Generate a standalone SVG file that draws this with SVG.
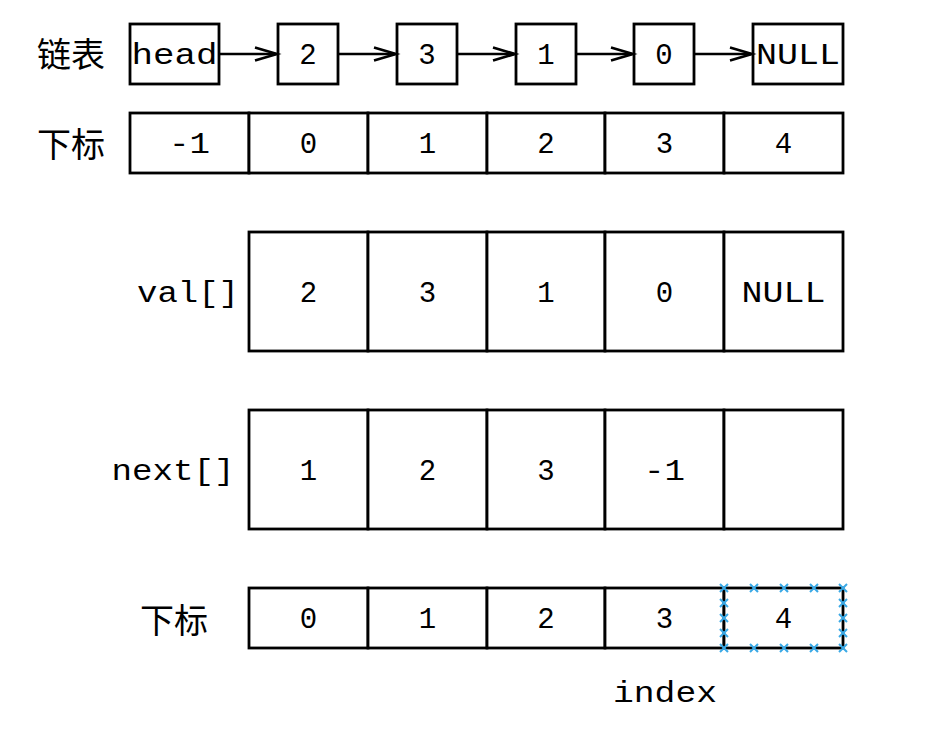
<svg xmlns="http://www.w3.org/2000/svg" width="952" height="736" viewBox="0 0 952 736">
<defs>
<path id="ah" d="M-22,-6.5 L0,0 L-22,6.5" fill="none" stroke="#000" stroke-width="2.6" stroke-linejoin="miter"/>
<g id="xm"><path d="M-4,-4 L4,4 M-4,4 L4,-4" stroke="#3aa9e6" stroke-width="2"/></g>
</defs>
<style>
.b{fill:#fff;stroke:#000;stroke-width:2.8}
.m{font-family:"Liberation Mono","Courier New",monospace;font-size:29px;fill:#000;text-anchor:middle}
.c{font-family:"Noto Sans CJK SC","Noto Sans CJK JP",sans-serif;font-size:34px;fill:#000}
.l{stroke:#000;stroke-width:2.4;fill:none}
</style>
<rect width="952" height="736" fill="#fff"/>
<g id="labels">
<text class="c" x="37" y="67">链表</text>
<text class="c" x="37" y="157">下标</text>
<text class="m" x="188" y="302" textLength="102" lengthAdjust="spacingAndGlyphs">val[]</text>
<text class="m" x="173" y="480" textLength="123" lengthAdjust="spacingAndGlyphs">next[]</text>
<text class="c" x="140" y="633">下标</text>
<text class="m" x="665" y="702" textLength="104" lengthAdjust="spacingAndGlyphs">index</text>
</g>
<g id="list-head"><rect class="b" x="130" y="24" width="89" height="60"/><text class="m" x="174.5" y="64" font-size="31" textLength="86" lengthAdjust="spacingAndGlyphs">head</text></g>
<g id="list-2"><rect class="b" x="278" y="24" width="60" height="60"/><text class="m" x="308" y="64">2</text></g>
<g id="list-3"><rect class="b" x="397" y="24" width="60" height="60"/><text class="m" x="427" y="64">3</text></g>
<g id="list-1"><rect class="b" x="516" y="24" width="60" height="60"/><text class="m" x="546" y="64">1</text></g>
<g id="list-0"><rect class="b" x="634" y="24" width="60" height="60"/><text class="m" x="664" y="64">0</text></g>
<g id="list-null"><rect class="b" x="753" y="24" width="90" height="60"/><text class="m" x="798" y="64" font-size="31" textLength="84" lengthAdjust="spacingAndGlyphs">NULL</text></g>
<g id="connectors">
<line class="l" x1="219" y1="54" x2="276" y2="54"/><use href="#ah" x="277" y="54"/>
<line class="l" x1="338" y1="54" x2="395" y2="54"/><use href="#ah" x="396" y="54"/>
<line class="l" x1="457" y1="54" x2="514" y2="54"/><use href="#ah" x="515" y="54"/>
<line class="l" x1="576" y1="54" x2="632" y2="54"/><use href="#ah" x="633" y="54"/>
<line class="l" x1="694" y1="54" x2="751" y2="54"/><use href="#ah" x="752" y="54"/>
</g>
<g id="index-row-top">
<rect class="b" x="130" y="113" width="119" height="60"/><text class="m" x="189.5" y="153" textLength="41" lengthAdjust="spacingAndGlyphs">-1</text>
<rect class="b" x="249" y="113" width="119" height="60"/><text class="m" x="308.5" y="153">0</text>
<rect class="b" x="368" y="113" width="119" height="60"/><text class="m" x="427.5" y="153">1</text>
<rect class="b" x="487" y="113" width="118" height="60"/><text class="m" x="546" y="153">2</text>
<rect class="b" x="605" y="113" width="119" height="60"/><text class="m" x="664.5" y="153">3</text>
<rect class="b" x="724" y="113" width="119" height="60"/><text class="m" x="783.5" y="153">4</text>
</g>
<g id="val">
<rect class="b" x="249" y="232" width="119" height="119"/><text class="m" x="308.5" y="302">2</text>
<rect class="b" x="368" y="232" width="119" height="119"/><text class="m" x="427.5" y="302">3</text>
<rect class="b" x="487" y="232" width="118" height="119"/><text class="m" x="546" y="302">1</text>
<rect class="b" x="605" y="232" width="119" height="119"/><text class="m" x="664.5" y="302">0</text>
<rect class="b" x="724" y="232" width="119" height="119"/><text class="m" x="783.5" y="302" textLength="84" lengthAdjust="spacingAndGlyphs">NULL</text>
</g>
<g id="next">
<rect class="b" x="249" y="410" width="119" height="119"/><text class="m" x="308.5" y="480">1</text>
<rect class="b" x="368" y="410" width="119" height="119"/><text class="m" x="427.5" y="480">2</text>
<rect class="b" x="487" y="410" width="118" height="119"/><text class="m" x="546" y="480">3</text>
<rect class="b" x="605" y="410" width="119" height="119"/><text class="m" x="664.5" y="480" textLength="41" lengthAdjust="spacingAndGlyphs">-1</text>
<rect class="b" x="724" y="410" width="119" height="119"/>
</g>
<g id="index-row-bottom">
<rect class="b" x="249" y="588" width="119" height="60"/><text class="m" x="308.5" y="628">0</text>
<rect class="b" x="368" y="588" width="119" height="60"/><text class="m" x="427.5" y="628">1</text>
<rect class="b" x="487" y="588" width="118" height="60"/><text class="m" x="546" y="628">2</text>
<rect class="b" x="605" y="588" width="119" height="60"/><text class="m" x="664.5" y="628">3</text>
</g>
<g id="index-cell-selected">
<rect class="b" x="724" y="588" width="119" height="60"/><text class="m" x="783.5" y="628">4</text>
<use href="#xm" x="724" y="588"/><use href="#xm" x="754" y="588"/><use href="#xm" x="784" y="588"/><use href="#xm" x="814" y="588"/><use href="#xm" x="843" y="588"/>
<use href="#xm" x="724" y="648"/><use href="#xm" x="754" y="648"/><use href="#xm" x="784" y="648"/><use href="#xm" x="814" y="648"/><use href="#xm" x="843" y="648"/>
<use href="#xm" x="724" y="603"/><use href="#xm" x="724" y="618"/><use href="#xm" x="724" y="633"/>
<use href="#xm" x="843" y="603"/><use href="#xm" x="843" y="618"/><use href="#xm" x="843" y="633"/>
</g>
</svg>
